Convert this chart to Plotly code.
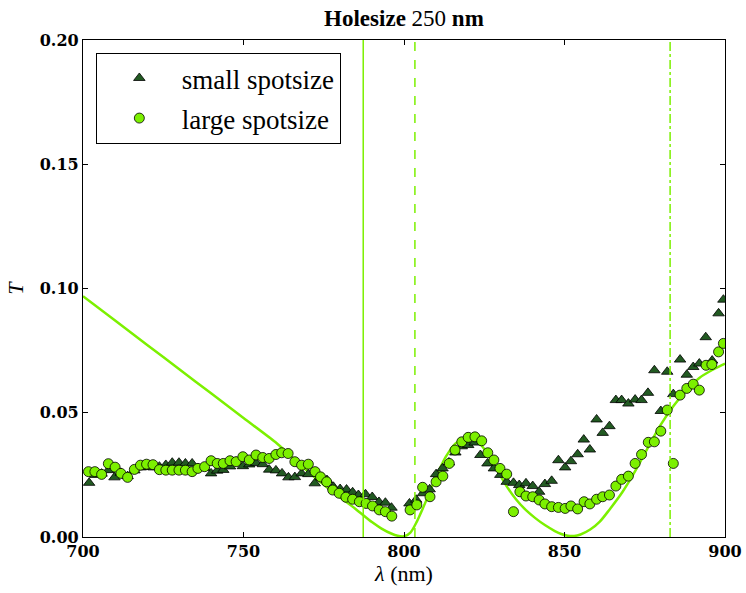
import plotly.graph_objects as go

# small spotsize (triangles)
x_small = [701.9,703.8,705.8,707.9,709.8,711.8,713.9,716.0,718.0,720.0,722.0,723.8,725.8,727.8,729.9,731.9,734.0,735.8,737.9,739.9,
           741.8,743.7,745.8,747.7,749.8,751.8,753.9,756.0,758.0,760.1,762.0,764.0,766.0,768.1,770.2,772.2,774.1,776.0,778.0,780.1,
           782.1,784.0,785.8,788.0,790.1,792.2,794.2,796.1,
           801.7,803.8,805.9,808.0,810.0,812.0,814.0,816.0,818.0,820.0,822.0,823.8,826.0,828.0,830.0,832.0,834.1,835.9,838.0,840.1,
           842.1,843.9,846.0,848.1,850.2,852.0,854.1,856.0,857.9,860.0,861.9,864.0,866.0,867.8,869.9,872.0,874.0,876.0,878.0,880.0,
           882.0,883.9,886.0,888.1,890.1,892.0,894.0,896.0,898.0,899.5]
y_small = [0.0218,0.0250,0.0255,0.0269,0.0240,0.0258,0.0245,0.0268,0.0280,0.0282,0.0280,0.0283,0.0290,0.0299,0.0299,0.0296,0.0296,0.0277,0.0278,0.0256,
           0.0267,0.0270,0.0284,0.0303,0.0285,0.0292,0.0298,0.0293,0.0271,0.0268,0.0256,0.0240,0.0241,0.0256,0.0253,0.0216,0.0240,0.0229,0.0202,0.0193,
           0.0191,0.0180,0.0169,0.0172,0.0161,0.0141,0.0138,0.0118,
           0.0135,0.0150,0.0176,0.0192,0.0253,0.0276,0.0300,0.0340,0.0365,0.0370,0.0380,0.0330,0.0296,0.0276,0.0250,0.0222,0.0218,0.0209,0.0216,0.0205,
           0.0182,0.0213,0.0226,0.0309,0.0280,0.0305,0.0333,0.0392,0.0352,0.0473,0.0419,0.0446,0.0551,0.0551,0.0537,0.0553,0.0551,0.0580,0.0671,0.0507,
           0.0665,0.0575,0.0714,0.0653,0.0684,0.0698,0.0804,0.0710,0.0900,0.0955]

# large spotsize (circles)
x_large = [701.7,703.7,705.8,707.9,710.0,711.8,713.9,716.0,717.9,719.8,721.8,723.8,725.8,727.8,729.9,731.9,734.0,735.8,737.9,739.9,
           741.8,743.7,745.8,747.7,749.8,751.8,753.9,756.0,758.0,760.1,761.9,763.9,766.0,768.1,770.2,772.3,774.0,775.9,777.8,779.8,
           781.9,784.0,786.1,788.2,790.2,792.3,794.2,796.2,
           801.9,804.0,805.8,808.1,810.0,812.1,814.1,815.9,818.0,820.0,822.1,824.2,826.1,828.0,829.9,832.0,834.1,836.1,838.0,840.1,
           842.1,843.9,846.0,848.1,850.2,852.0,854.1,856.1,857.9,860.0,861.9,864.0,866.0,867.8,869.9,872.0,874.0,876.1,878.0,880.0,
           882.0,883.9,886.0,888.1,890.1,892.0,894.1,895.9,898.0,899.5]
y_large = [0.0263,0.0263,0.0252,0.0295,0.0281,0.0256,0.0240,0.0272,0.0289,0.0293,0.0291,0.0271,0.0269,0.0269,0.0269,0.0269,0.0263,0.0276,0.0283,0.0307,
           0.0296,0.0296,0.0307,0.0303,0.0323,0.0310,0.0330,0.0320,0.0316,0.0332,0.0339,0.0336,0.0303,0.0289,0.0293,0.0263,0.0242,0.0222,0.0189,0.0176,
           0.0160,0.0152,0.0142,0.0135,0.0125,0.0109,0.0102,0.0084,
           0.0109,0.0129,0.0200,0.0162,0.0222,0.0245,0.0296,0.0350,0.0383,0.0401,0.0403,0.0387,0.0339,0.0310,0.0276,0.0253,0.0102,0.0182,0.0165,0.0162,
           0.0149,0.0133,0.0122,0.0119,0.0115,0.0125,0.0113,0.0142,0.0133,0.0152,0.0162,0.0169,0.0205,0.0232,0.0245,0.0296,0.0332,0.0381,0.0383,0.0426,
           0.0511,0.0296,0.0571,0.0598,0.0615,0.0591,0.0691,0.0694,0.0745,0.0779]

# model curve
x_model = [700,710,720,730,740,750,760,765,770,775,780,785,790,793,796,798,800,802,804,807,810,813,816,819,821,823,826,829,832,835,838,
           841,844,847,849,851,853,855,858,861,864,868,872,876,880,884,888,892,896,900]
y_model = [0.0969,0.0871,0.0773,0.0675,0.0577,0.0479,0.0381,0.0322,0.0264,0.0210,0.0160,0.0112,0.0060,0.0034,0.0014,0.0005,0.0003,0.0018,0.0062,0.0149,0.0242,0.0322,0.0376,0.0400,0.0402,0.0385,0.0336,0.0270,0.0204,0.0150,0.0108,
           0.0075,0.0047,0.0024,0.0012,0.0005,0.0004,0.0010,0.0030,0.0062,0.0110,0.0180,0.0265,0.0360,0.0452,0.0528,0.0590,0.0640,0.0672,0.0698]

# vertical reference lines
vlines_x = [787.3, 803.4, 882.9]
vlines_dash = ["solid", "dash", "dashdot"]

LIME = "#7cf000"
DARK = "#225a22"
FONT = "Liberation Serif"
TFONT = "DejaVu Serif"

fig = go.Figure()
fig.add_trace(go.Scatter(x=x_model, y=y_model, mode="lines", line=dict(color=LIME, width=2.5, shape="spline", smoothing=0.8),
                         showlegend=False, hoverinfo="skip"))
fig.add_trace(go.Scatter(x=x_small, y=y_small, mode="markers", name="small spotsize", legendgroup="a",
                         marker=dict(symbol="triangle-up", size=10, color=DARK, line=dict(color="black", width=0.8))))
fig.add_trace(go.Scatter(x=x_large, y=y_large, mode="markers", name="large spotsize", legendgroup="b",
                         marker=dict(symbol="circle", size=10, color=LIME, line=dict(color="black", width=0.8))))

for xv, d in zip(vlines_x, vlines_dash):
    fig.add_shape(type="line", xref="x", yref="paper", x0=xv, x1=xv, y0=0, y1=1,
                  line=dict(color=LIME, width=1.5, dash=d))

axis_common = dict(showgrid=False, zeroline=False, showline=True, linecolor="black", linewidth=1.2,
                   mirror="ticks", ticks="inside", ticklen=5, tickcolor="black", automargin=False,
                   tickfont=dict(family=TFONT, size=16, color="black", weight="bold"))

fig.update_xaxes(range=[700, 900], tickvals=[700, 750, 800, 850, 900], ticktext=["700", "750", "800", "850", "900"],
                 title=dict(text="<i>λ</i> (nm)", font=dict(family=FONT, size=22, color="black"), standoff=2),
                 **axis_common)
fig.update_yaxes(range=[0, 0.2], tickvals=[0, 0.05, 0.10, 0.15, 0.20], ticktext=["0.00", "0.05", "0.10", "0.15", "0.20"],
                 title=dict(text="<i>T</i>", font=dict(family=FONT, size=22, color="black"), standoff=10),
                 **axis_common)

fig.update_layout(
    width=746, height=593,
    margin=dict(l=83, r=21, t=40, b=56, autoexpand=False),
    paper_bgcolor="white", plot_bgcolor="white",
    title=dict(text="<b>Holesize</b> 250 <b>nm</b>", x=0.5415, xanchor="center", y=0.97, yanchor="middle",
               font=dict(family=FONT, size=23, color="black")),
    legend=dict(x=0.02, y=0.974, xanchor="left", yanchor="top", bordercolor="black", borderwidth=1,
                bgcolor="white", font=dict(family=FONT, size=27, color="black"),
                tracegroupgap=2, itemwidth=75),
)

fig.write_html("out.html")
